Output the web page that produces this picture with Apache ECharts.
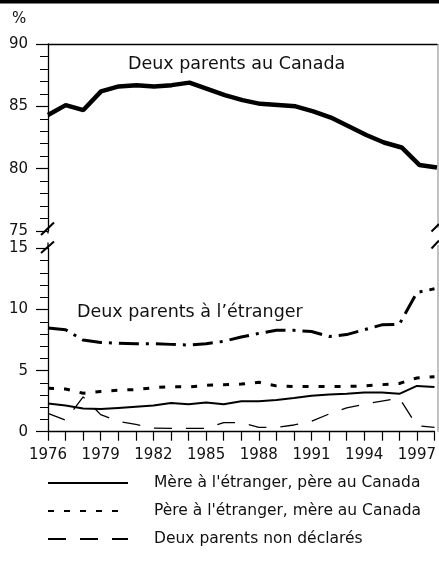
<!DOCTYPE html>
<html>
<head>
<meta charset="utf-8">
<script src="https://cdn.jsdelivr.net/npm/echarts@6/dist/echarts.min.js"></script>
<style>
html,body{margin:0;padding:0;background:#fff;}
#chart{width:439px;height:565px;}
</style>
</head>
<body>
<div id="chart"></div>
<script>
// ---- data ----
var years = ['1976','1977','1978','1979','1980','1981','1982','1983','1984','1985','1986','1987','1988','1989','1990','1991','1992','1993','1994','1995','1996','1997','1998'];
var topTicks = [75, 80, 85, 90];
var bottomTicks = [0, 5, 10, 15];
var deuxCanada   = [84.3, 85.1, 84.7, 86.2, 86.6, 86.7, 86.6, 86.7, 86.9, 86.4, 85.9, 85.5, 85.2, 85.1, 85.0, 84.6, 84.1, 83.4, 82.7, 82.1, 81.7, 80.3, 80.1];
var deuxEtranger = [8.5, 8.35, 7.5, 7.3, 7.25, 7.2, 7.2, 7.15, 7.1, 7.2, 7.4, 7.75, 8.05, 8.3, 8.3, 8.2, 7.8, 7.95, 8.35, 8.75, 8.8, 11.4, 11.7];
var pereEtranger = [3.55, 3.5, 3.15, 3.3, 3.4, 3.45, 3.6, 3.7, 3.65, 3.8, 3.85, 3.9, 4.05, 3.75, 3.7, 3.7, 3.7, 3.7, 3.75, 3.85, 3.95, 4.4, 4.5];
var mereEtranger = [2.3, 2.15, 1.9, 1.85, 1.95, 2.05, 2.15, 2.35, 2.25, 2.4, 2.25, 2.5, 2.5, 2.6, 2.75, 2.95, 3.05, 3.1, 3.2, 3.2, 3.1, 3.75, 3.65];
var nonDeclares  = [1.5, 0.95, 2.85, 1.4, 0.85, 0.6, 0.3, 0.28, 0.28, 0.28, 0.75, 0.75, 0.35, 0.35, 0.55, 0.85, 1.45, 1.95, 2.25, 2.5, 2.75, 0.5, 0.35];
var names = {
  canada: 'Deux parents au Canada',
  etranger: 'Deux parents \u00e0 l\u2019\u00e9tranger',
  mere: "M\u00e8re \u00e0 l'\u00e9tranger, p\u00e8re au Canada",
  pere: "P\u00e8re \u00e0 l'\u00e9tranger, m\u00e8re au Canada",
  nd: 'Deux parents non d\u00e9clar\u00e9s'
};

// ---- layout ----
var FONT = 'DejaVu Sans';
var PL = 48, PR = 437, W = 439;
var G0 = {top: 44, h: 187};
var G1 = {top: 248.5, h: 183.2};

var chart = echarts.init(document.getElementById('chart'), null, {renderer: 'canvas'});

function yAxisLeft(grid, ticks) {
  return {
    gridIndex: grid, type: 'value', position: 'left',
    min: ticks[0], max: ticks[ticks.length - 1], interval: ticks[1] - ticks[0],
    axisLine: {show: true, onZero: false, lineStyle: {color: '#000', width: 1.3}},
    axisTick: {show: true, length: 12, lineStyle: {color: '#000', width: 1.2}},
    minorTick: {show: true, splitNumber: 5, length: 8, lineStyle: {color: '#000', width: 1}},
    splitLine: {show: false},
    axisLabel: {margin: 20, fontFamily: FONT, fontSize: 15, color: '#111'}
  };
}

var option = {
  animation: false,
  backgroundColor: '#fff',
  grid: [
    {left: PL, right: W - PR, top: G0.top, height: G0.h},
    {left: PL, right: W - PR, top: G1.top, height: G1.h}
  ],
  xAxis: [
    {gridIndex: 0, type: 'category', data: years, boundaryGap: false, position: 'top',
     axisLine: {show: true, onZero: false, lineStyle: {color: '#000', width: 1.3}},
     axisTick: {show: false}, axisLabel: {show: false}},
    {gridIndex: 1, type: 'category', data: years, boundaryGap: false, position: 'bottom',
     axisLine: {show: true, onZero: false, lineStyle: {color: '#000', width: 1.3}},
     axisTick: {show: true, interval: 0, length: 9, lineStyle: {color: '#000', width: 1.2}},
     axisLabel: {interval: 2, margin: 16, fontFamily: FONT, fontSize: 15, color: '#111'}}
  ],
  yAxis: [yAxisLeft(0, topTicks), yAxisLeft(1, bottomTicks)],
  legend: {
    orient: 'vertical', left: 47, top: 475, padding: 0,
    itemWidth: 80, itemHeight: 14, itemGap: 12,
    data: [names.mere, names.pere, names.nd],
    itemStyle: {opacity: 0},
    textStyle: {fontFamily: FONT, fontSize: 15.5, color: '#111', padding: [0, 0, 0, 21]}
  },
  series: [
    {name: names.canada, type: 'line', xAxisIndex: 0, yAxisIndex: 0, data: deuxCanada,
     symbol: 'none', lineStyle: {color: '#000', width: 4.5}, itemStyle: {color: '#000'}},
    {name: names.etranger, type: 'line', xAxisIndex: 1, yAxisIndex: 1, data: deuxEtranger,
     symbol: 'none', lineStyle: {color: '#000', width: 3, type: [20, 7, 3, 7]}, itemStyle: {color: '#000'}},
    {name: names.pere, type: 'line', xAxisIndex: 1, yAxisIndex: 1, data: pereEtranger,
     symbol: 'none', lineStyle: {color: '#000', width: 3, type: [6, 10]}, itemStyle: {color: '#000'}},
    {name: names.mere, type: 'line', xAxisIndex: 1, yAxisIndex: 1, data: mereEtranger,
     symbol: 'none', lineStyle: {color: '#000', width: 2}, itemStyle: {color: '#000'}},
    {name: names.nd, type: 'line', xAxisIndex: 1, yAxisIndex: 1, data: nonDeclares,
     symbol: 'none', lineStyle: {color: '#000', width: 1.3, type: [18, 14]}, itemStyle: {color: '#000'}}
  ],
  graphic: [
    {type: 'rect', shape: {x: 0, y: 0, width: W, height: 3.5}, style: {fill: '#000'}},
    {type: 'text', left: 12, top: 12, style: {text: '%', font: '15px "DejaVu Sans"', fill: '#111'}},
    {type: 'text', left: 128, top: 55, style: {text: names.canada, font: '17.5px "DejaVu Sans"', fill: '#111'}},
    {type: 'text', left: 77, top: 303, style: {text: names.etranger, font: '17.5px "DejaVu Sans"', fill: '#111'}},
    // right frame lines (grey), broken at the axis break
    {type: 'line', shape: {x1: PR + 1, y1: G0.top, x2: PR + 1, y2: 228}, style: {stroke: '#999', lineWidth: 1.2}},
    {type: 'line', shape: {x1: PR + 1, y1: 245, x2: PR + 1, y2: G1.top + G1.h}, style: {stroke: '#999', lineWidth: 1.2}},
    // axis break marks
    {type: 'line', shape: {x1: PL, y1: G0.top + G0.h, x2: PL, y2: G0.top + G0.h + 2.5}, style: {stroke: '#000', lineWidth: 1.3}},
    {type: 'line', shape: {x1: PL, y1: G1.top - 6, x2: PL, y2: G1.top}, style: {stroke: '#000', lineWidth: 1.3}},
    {type: 'line', shape: {x1: 41, y1: 235, x2: 54, y2: 222.5}, style: {stroke: '#000', lineWidth: 2}},
    {type: 'line', shape: {x1: 41, y1: 253, x2: 54, y2: 241.5}, style: {stroke: '#000', lineWidth: 2}},
    {type: 'line', shape: {x1: 431.5, y1: 231.5, x2: 439, y2: 224}, style: {stroke: '#000', lineWidth: 2}},
    {type: 'line', shape: {x1: 431.5, y1: 248.5, x2: 439, y2: 240.5}, style: {stroke: '#000', lineWidth: 2}}
  ]
};
chart.setOption(option);
</script>
</body>
</html>
